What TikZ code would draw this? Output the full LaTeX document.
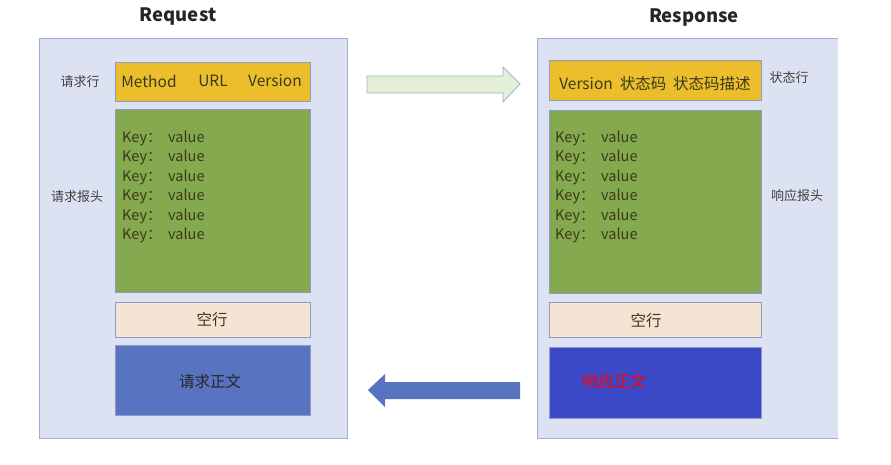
\documentclass[tikz,border=0pt]{standalone}
\usepackage{fontspec}
\setmainfont{Noto Sans CJK SC}
\usetikzlibrary{shapes.arrows}
\definecolor{panelfill}{HTML}{DDE2F2}
\definecolor{panelline}{HTML}{A3ADD3}
\definecolor{yel}{HTML}{EDBE2C}
\definecolor{grn}{HTML}{84A94E}
\definecolor{peach}{HTML}{F5E4D4}
\definecolor{blueL}{HTML}{5874C0}
\definecolor{blueR}{HTML}{3B48C8}
\definecolor{boxline}{HTML}{8E9BC6}
\definecolor{arrowA}{HTML}{E4EFD8}
\definecolor{arrowAline}{HTML}{9FB0CC}
\definecolor{txt}{HTML}{3A3A1A}
\definecolor{lbl}{HTML}{404040}
\tikzset{
  panel/.style={fill=panelfill, draw=panelline, line width=1pt},
  box/.style={draw=boxline, line width=1pt},
  kv/.style={anchor=base west, font=\fontsize{14.5}{16}\selectfont, text=txt, inner sep=0pt},
  boxtxt/.style={font=\fontsize{15.5}{17}\selectfont, text=txt, inner sep=0pt},
  side/.style={font=\fontsize{13}{15}\selectfont, text=lbl, inner sep=0pt},
  ttl/.style={font=\fontsize{18.5}{20}\selectfont\bfseries, text=black!85, inner sep=0pt}
}
\begin{document}
\begin{tikzpicture}[x=1pt,y=-1pt]
\useasboundingbox (0,0) rectangle (891,464);
% panels
\path[panel] (39,38) rectangle (347,438);
\path[fill=panelfill] (537,38) rectangle (838,438);
\draw[panelline, line width=1pt] (838,38) -- (537,38) -- (537,438) -- (838,438);
% titles
\node[ttl] (treq) at (178,17) {Request};
\node[ttl] (tres) at (694,18) {Response};
% left boxes
\path[box, fill=yel] (115,62) rectangle (310,101);
\path[box, fill=grn] (115,109) rectangle (310,292);
\path[box, fill=peach] (115,302) rectangle (310,337);
\path[box, fill=blueL] (115,345) rectangle (310,415);
\node[boxtxt] (m) at (149,81) {Method};
\node[boxtxt] (u) at (213,81) {URL};
\node[boxtxt] (v) at (275,81) {Version};
\foreach \y [count=\i] in {142,161,181,200,220,239}{
  \node[kv] (lk\i) at (122,\y) {Key：};
  \node[kv] (lv\i) at (168,\y) {value};
}
\node[boxtxt] (lk) at (212,320) {空行};
\node[boxtxt, text=black!85] (lb) at (210,382) {请求正文};
% left labels
\node[side] (l1) at (80,82) {请求行};
\node[side] (l2) at (77,197) {请求报头};
% right boxes
\path[box, fill=yel] (549,60) rectangle (761,100);
\path[box, fill=grn] (549,110) rectangle (761,293);
\path[box, fill=peach] (549,302) rectangle (761,337);
\path[box, fill=blueR] (549,347) rectangle (761,418);
\node[boxtxt] (rs) at (655,84) {Version\ \ 状态码\ \ 状态码描述};
\foreach \y [count=\i] in {142,161,181,200,220,239}{
  \node[kv] (rk\i) at (555,\y) {Key：};
  \node[kv] (rv\i) at (601,\y) {value};
}
\node[boxtxt] (rk) at (646,321) {空行};
\node[font=\fontsize{16}{18}\selectfont, text=red, inner sep=0pt] (rb) at (614,381) {响应正文};
% right labels
\node[side] (r1) at (789,78) {状态行};
\node[side] (r2) at (797,196) {响应报头};
% arrows
\draw[fill=arrowA, draw=arrowAline, line width=0.8pt]
  (367,76) -- (503,76) -- (503,67) -- (520,84) -- (503,102) -- (503,93) -- (367,93) -- cycle;
\fill[blueL]
  (520,382) -- (385,382) -- (385,374) -- (368,390) -- (385,407) -- (385,399) -- (520,399) -- cycle;
\end{tikzpicture}
\end{document}
